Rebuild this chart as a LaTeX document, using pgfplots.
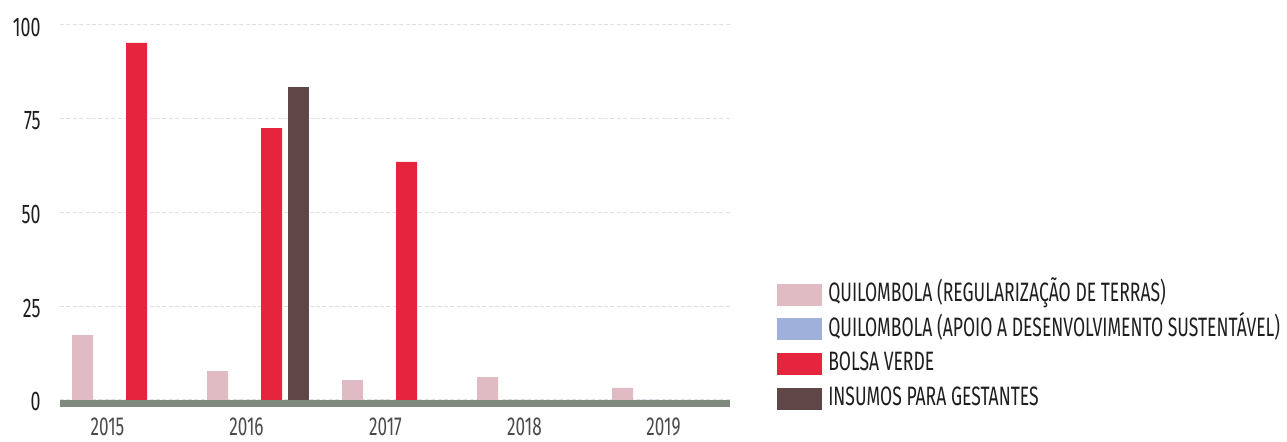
\documentclass[border=0pt]{standalone}
\usepackage{fontspec}
\setmainfont[FakeStretch=0.66]{Fira Sans}
\usepackage{pgfplots}
\pgfplotsset{compat=1.18}
\definecolor{cpink}{HTML}{E1BBC3}
\definecolor{cblue}{HTML}{9FB1DA}
\definecolor{cred}{HTML}{E6243E}
\definecolor{cbrown}{HTML}{5E4746}
\definecolor{cband}{HTML}{7F897D}
\definecolor{cgrid}{HTML}{E6DDE0}
\definecolor{ctxt}{HTML}{1E1E1E}
\definecolor{cxt}{HTML}{4A4A4A}
\begin{document}
\begin{tikzpicture}
\begin{axis}[
  name=ax,
  scale only axis,
  width=335pt, height=203.5pt,
  xmin=-0.4667, xmax=4.4963,
  ymin=-1.867, ymax=106.67,
  axis line style={draw=none},
  major tick length=0pt,
  ytick={0,25,50,75,100},
  xtick={-0.1148,0.9148,1.9444,2.9741,4.0037},
  xticklabels={2015,2016,2017,2018,2019},
  ymajorgrids,
  grid style={cgrid, line width=0.5pt, dash pattern=on 2pt off 1.2pt},
  /pgf/number format/assume math mode=true,
  yticklabel style={font=\fontsize{13.5}{15}\selectfont, text=ctxt, anchor=east, inner sep=0pt, xshift=-9.5pt, yshift=-1pt},
  xticklabel style={font=\fontsize{13}{15}\selectfont, text=cxt, anchor=north, inner sep=0pt, yshift=-5pt},
  ybar, bar width=10.5pt,
  legend style={at={(rel axis cs:1.07,0.305)}, anchor=north west, draw=none, fill=none, inner sep=0pt,
    row sep=6.1pt, column sep=3pt,
    nodes={inner sep=0pt, text height=9pt, text depth=2.3pt, font=\fontsize{13.3}{15}\selectfont, text=ctxt}},
  legend cell align=left,
  legend image code/.code={\fill[#1] (0pt,-5.5pt) rectangle (22.5pt,5.5pt);},
  clip=false,
]
\fill[cband] (axis cs:-0.4667,-1.867) rectangle (axis cs:4.4963,0);
\addplot[fill=cpink, draw=none, bar shift=-20.25pt] coordinates {(0,17.3) (1,7.7) (2,5.3) (3,6.1) (4,3.2)};
\addplot[fill=cblue, draw=none, bar shift=-6.75pt] coordinates {(0,0) (1,0) (2,0) (3,0) (4,0)};
\addplot[fill=cred, draw=none, bar shift=6.75pt] coordinates {(0,95.2) (1,72.5) (2,63.5)};
\addplot[fill=cbrown, draw=none, bar shift=20.25pt] coordinates {(1,83.5)};
\legend{QUILOMBOLA (REGULARIZAÇÃO DE TERRAS),QUILOMBOLA (APOIO A DESENVOLVIMENTO SUSTENTÁVEL),BOLSA VERDE,INSUMOS PARA GESTANTES}
\end{axis}
\pgfresetboundingbox
\useasboundingbox ([shift={(-30pt,-17.5pt)}]ax.south west) rectangle ([shift={(278.5pt,0pt)}]ax.north east);
\end{tikzpicture}
\end{document}
